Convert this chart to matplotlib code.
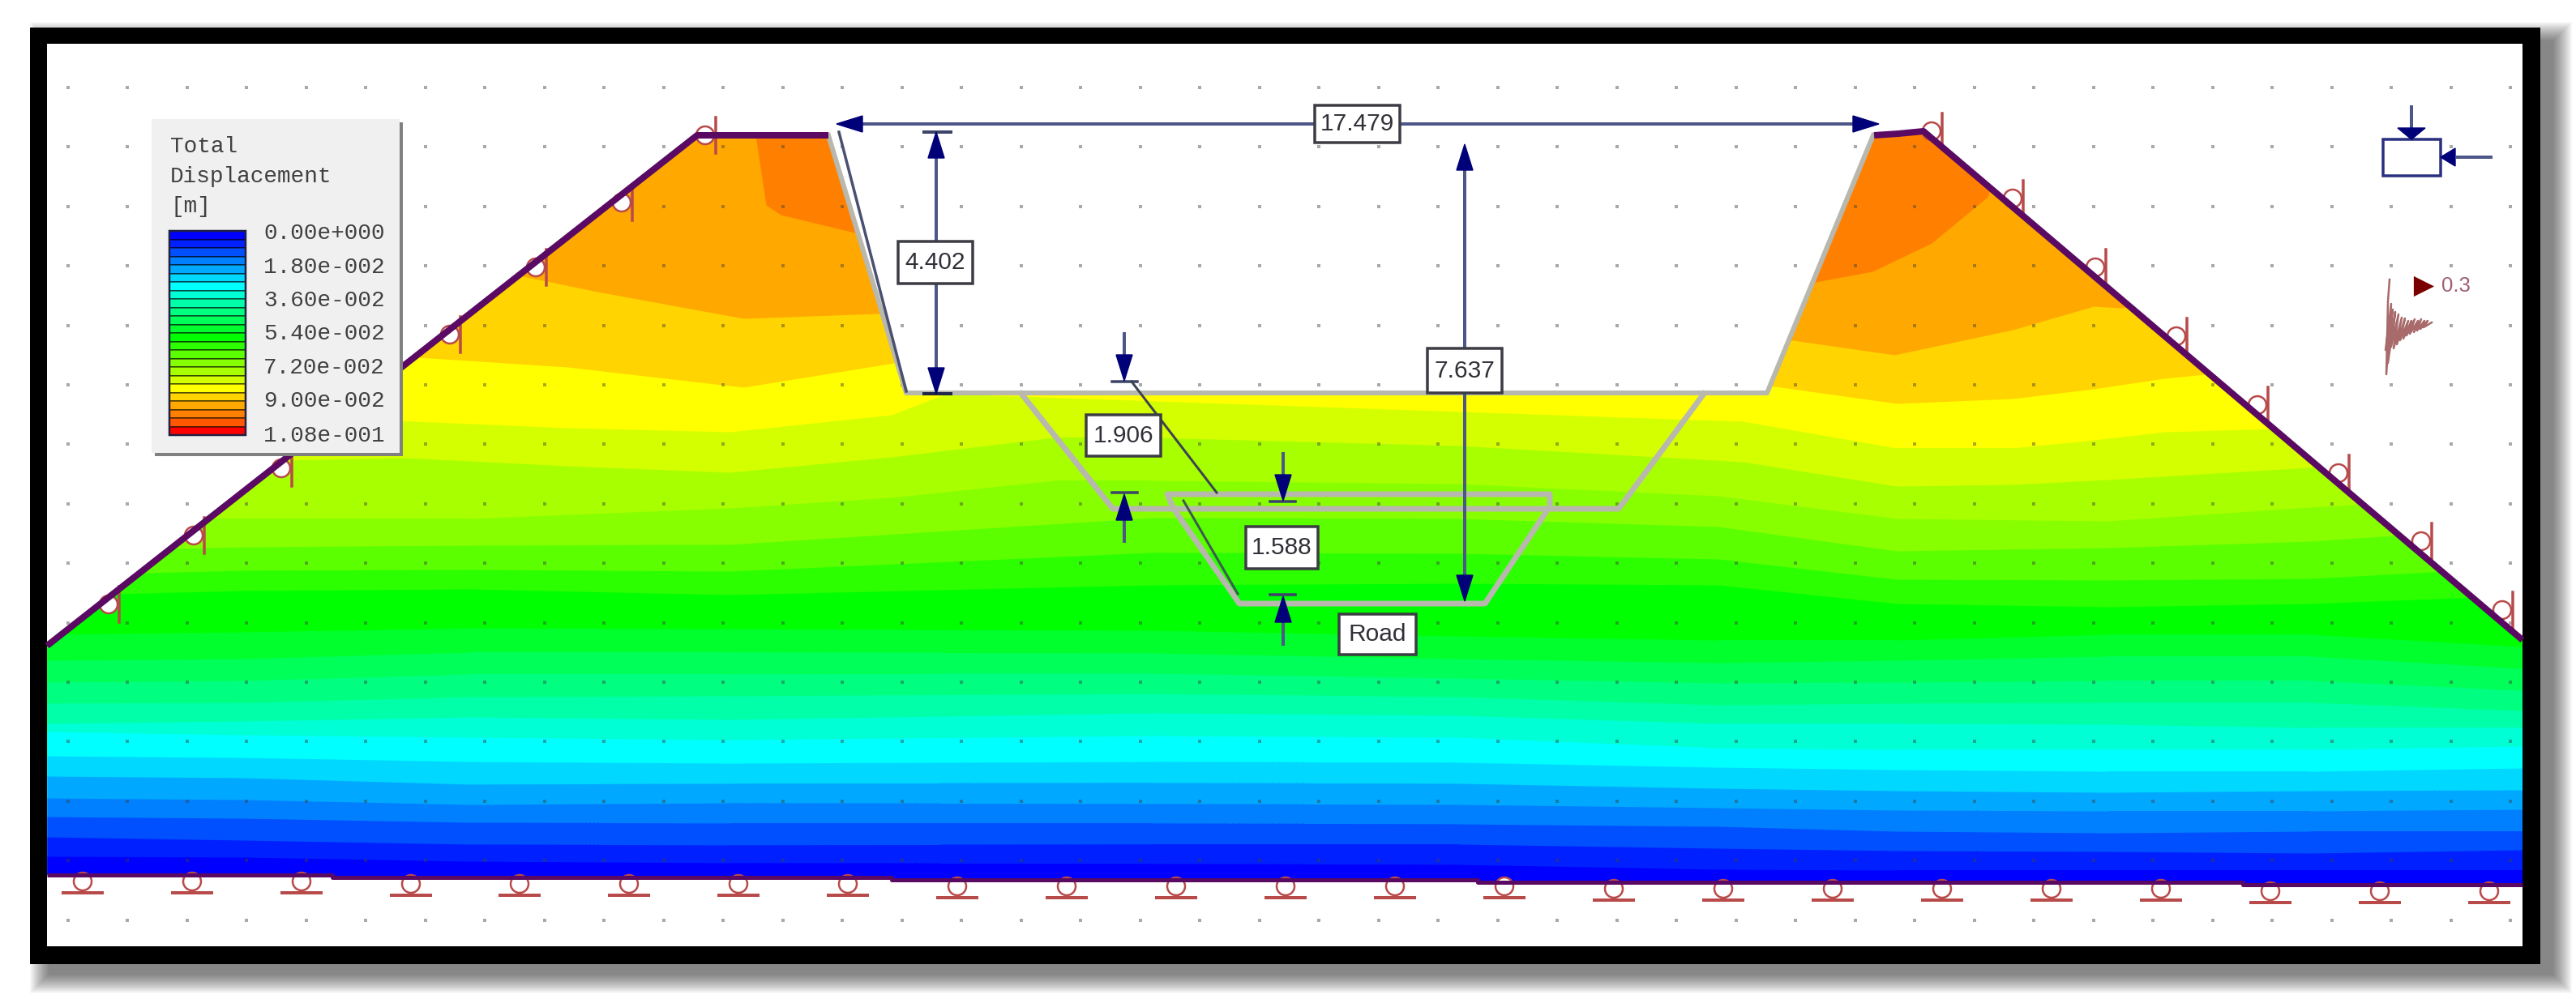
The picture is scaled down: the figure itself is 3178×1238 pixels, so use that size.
import numpy as np
import matplotlib
matplotlib.use("Agg")
import matplotlib.pyplot as plt
from matplotlib.patches import Rectangle, Polygon, Circle

W, H = 3178, 1238

# ---------- geometry of the section ----------
domain_x = [58, 860, 1022, 1118, 2180, 2311, 2342, 2373, 3112, 3112, 2767, 2767, 1823, 1823, 1100, 1100, 410, 410, 58]
domain_y = [797, 167, 167, 485, 485, 167, 165, 162, 790, 1092, 1092, 1089, 1089, 1086, 1086, 1083, 1083, 1080, 1080]

# ---------- contour bands: upper boundary of each band ----------
band0_colour = '#ff8000'
free_bands = [
    ('#ffa800', [58, 925, 932, 945, 963, 1058, 1100, 2240, 2310, 2383, 2452, 2500, 3112],
                [100, 100, 167, 253, 265, 288, 300, 348, 335, 300, 243, 100, 100]),
    ('#ffd400', [58, 620, 640, 737, 917, 1083, 1150, 2212, 2337, 2483, 2583, 2617, 2700, 3112],
                [100, 330, 340, 360, 393, 387, 400, 420, 438, 407, 378, 380, 370, 370]),
    ('#ffff00', [58, 500, 700, 917, 1103, 1130, 2190, 2340, 2483, 2583, 2670, 2740, 3112],
                [400, 440, 453, 478, 448, 440, 477, 498, 492, 480, 467, 460, 460]),
    ('#d4ff00', [58, 330, 510, 700, 900, 1100, 1167, 2150, 2340, 2483, 2583, 2670, 3112],
                [500, 520, 520, 528, 533, 512, 486, 520, 553, 553, 543, 533, 520]),
    ('#a8ff00', [58, 350, 500, 700, 900, 1100, 1300, 1420, 1800, 2150, 2340, 2483, 2600, 2850, 3112],
                [560, 568, 565, 575, 583, 564, 540, 540, 550, 570, 600, 598, 592, 577, 560]),
    ('#88ff00', [58, 400, 580, 900, 1100, 1300, 1420, 1800, 2120, 2340, 2600, 2850, 3112],
                [640, 640, 640, 627, 614, 593, 593, 597, 612, 640, 643, 626, 610]),
]
station_x = [58, 300, 580, 900, 1420, 1800, 2120, 2340, 2600, 2850, 3112]
band_60 = [680, 675, 673, 672, 639, 640, 650, 680, 676, 668, 650]
band_30 = [710, 704, 703, 705, 682, 683, 690, 715, 716, 714, 700]
band_00 = [735, 729, 727, 734, 722, 720, 722, 745, 749, 745, 735]
band_20 = [783, 780, 775, 776, 778, 785, 790, 790, 783, 783, 798]
band_50 = [815, 813, 805, 805, 806, 813, 818, 815, 810, 810, 825]
band_80 = [842, 840, 832, 832, 831, 837, 843, 842, 840, 840, 852]
band_a8 = [868, 867, 860, 859, 856, 860, 870, 868, 867, 867, 877]
band_d8 = [893, 890, 885, 888, 880, 883, 893, 893, 894, 898, 898]
band_cy = [903, 907, 910, 913, 908, 910, 923, 925, 925, 925, 921]
band_b1 = [933, 935, 940, 942, 940, 941, 947, 950, 952, 952, 948]
band_b2 = [958, 960, 968, 967, 966, 967, 973, 976, 978, 976, 975]
band_b3 = [985, 987, 993, 991, 992, 993, 997, 1000, 1001, 1001, 999]
band_b4 = [1008, 1010, 1015, 1016, 1016, 1017, 1020, 1026, 1028, 1026, 1026]
band_b5 = [1033, 1037, 1042, 1043, 1042, 1042, 1047, 1050, 1051, 1053, 1049]
band_b6 = [1057, 1058, 1063, 1065, 1066, 1067, 1073, 1074, 1074, 1074, 1074]
station_bands = [
    ('#5cff00', band_60), ('#2cff00', band_30), ('#00ff00', band_00), ('#00ff2c', band_20),
    ('#00ff58', band_50), ('#00ff80', band_80), ('#00ffa8', band_a8), ('#00ffd4', band_d8),
    ('#00ffff', band_cy), ('#00d8ff', band_b1), ('#00a8ff', band_b2), ('#0080ff', band_b3),
    ('#0050ff', band_b4), ('#0020ff', band_b5), ('#0000ff', band_b6),
]

# ---------- excavation stages ----------
stage2_x = [1260, 1373, 1997, 2102]
stage2_y = [486, 628, 628, 486]
stage3_x = [1448, 1440, 1912, 1912, 1832, 1529, 1448]
stage3_y = [628, 610, 610, 625, 745, 745, 628]

# ---------- supports ----------
left_roller_x = [134, 239, 347, 555, 661, 767, 870]
left_roller_y = [746, 661, 578, 413, 330, 250, 167]
right_roller_x = [2383, 2483, 2585, 2685, 2785, 2885, 2987, 3087]
right_roller_y = [162, 245, 330, 415, 500, 584, 668, 753]
base_roller_x = [102, 237, 372, 507, 641, 776, 911, 1046, 1181, 1316, 1451, 1586,
                 1721, 1856, 1991, 2126, 2261, 2396, 2531, 2666, 2801, 2936, 3071]
base_roller_y = [1102, 1102, 1102, 1105, 1105, 1105, 1105, 1105, 1108, 1108, 1108, 1108,
                 1108, 1108, 1111, 1111, 1111, 1111, 1111, 1111, 1114, 1114, 1114]

# ---------- labels ----------
legend_title = ['Total', 'Displacement', '[m]']
legend_ticks = ['0.00e+000', '1.80e-002', '3.60e-002', '5.40e-002', '7.20e-002', '9.00e-002', '1.08e-001']
legend_tick_y = [288, 330, 371, 412, 454, 495, 538]
legend_strips = ['#0000ff', '#0020ff', '#0050ff', '#0080ff', '#00a8ff', '#00d8ff', '#00ffff', '#00ffd4',
                 '#00ffa8', '#00ff80', '#00ff58', '#00ff2c', '#00ff00', '#2cff00', '#5cff00', '#88ff00',
                 '#a8ff00', '#d4ff00', '#ffff00', '#ffd400', '#ffa800', '#ff8000', '#ff5800', '#ff0000']

boxes = [('17.479', 1622, 1727, 130, 176), ('4.402', 1108, 1200, 298, 350),
         ('7.637', 1761, 1853, 430, 485), ('1.906', 1340, 1432, 512, 563),
         ('1.588', 1537, 1626, 650, 702), ('Road', 1652, 1747, 758, 808)]

seis_x = [2948, 2946, 2944, 2950, 2943, 2952, 2946, 2955, 2950, 2959, 2953, 2963, 2957, 2967, 2961, 2971, 2965,
          2975, 2969, 2979, 2973, 2983, 2978, 2987, 2982, 2991, 2986, 2995, 2990, 3000]
seis_y = [345, 372, 462, 375, 432, 382, 448, 385, 428, 388, 430, 392, 425, 393, 420, 396, 418,
          396, 414, 394, 412, 396, 410, 394, 408, 396, 406, 396, 404, 398]

NAVY = '#000078'
DIMLINE = '#4d5688'

fig = plt.figure(figsize=(W / 100, H / 100), dpi=100, facecolor='white')
ax = fig.add_axes([0, 0, 1, 1])
ax.set_xlim(0, W)
ax.set_ylim(H, 0)
ax.axis('off')
px = 72 / 100  # one pixel in points

# frame and its soft shadow
for k in range(24):
    ax.add_patch(Rectangle((60 - k, 50 - k), 3090 + 2 * k, 1153 + 2 * k, fc='black', ec='none', alpha=0.022, zorder=0))
ax.add_patch(Rectangle((37, 34), 3097, 1156, fc='black', ec='none', zorder=1))
ax.add_patch(Rectangle((58, 54), 3054, 1114, fc='white', ec='none', zorder=2))

# contour bands
domain = Polygon(np.column_stack([domain_x, domain_y]), closed=True, fc=band0_colour, ec='none', zorder=3)
ax.add_patch(domain)
for colour, xs, ys in free_bands:
    coll = ax.fill_between(xs, ys, 1130, color=colour, lw=0, zorder=4)
    coll.set_clip_path(domain)
for colour, ys in station_bands:
    coll = ax.fill_between(station_x, ys, 1130, color=colour, lw=0, zorder=4)
    coll.set_clip_path(domain)

# grid of dots
gx = np.arange(83.5, 3100, 73.5)
gy = np.arange(108, 1140, 73.4)
GX, GY = np.meshgrid(gx, gy)
ax.scatter(GX.ravel(), GY.ravel(), s=11, marker='s', color=(0.25, 0.25, 0.25, 0.45), lw=0, zorder=5)

# excavation outlines
GREY = '#b8b8ae'
ax.plot([1022, 1118, 2180, 2311], [167, 485, 485, 167], color=GREY, lw=6 * px, solid_joinstyle='round', zorder=6)
ax.plot(stage2_x, stage2_y, color=GREY, lw=7 * px, solid_joinstyle='round', zorder=6)
ax.plot(stage3_x, stage3_y, color=GREY, lw=7 * px, solid_joinstyle='round', zorder=6)

# supports
RED = '#b84a4a'
for x, y in zip(left_roller_x + right_roller_x, left_roller_y + right_roller_y):
    ax.add_patch(Circle((x, y), 11, fc='white', ec=RED, lw=2.5 * px, zorder=7))
    ax.plot([x + 13, x + 13], [y - 22, y + 22], color=RED, lw=3.5 * px, zorder=7)
for x, y in zip(base_roller_x, base_roller_y):
    ax.add_patch(Circle((x, y - 14), 11, fc='white', ec=RED, lw=2.5 * px, zorder=7))
    ax.plot([x - 24, x + 24], [y, y], color=RED, lw=4 * px, zorder=7)

# boundary lines
PURPLE = '#5a0a62'
ax.plot([58, 860, 1022], [797, 167, 167], color=PURPLE, lw=8 * px, solid_capstyle='butt', zorder=8)
ax.plot([2312, 2342, 2373, 3112], [167, 165, 162, 790], color=PURPLE, lw=8 * px, solid_capstyle='butt', zorder=8)
ax.plot(domain_x[9:], domain_y[9:], color=PURPLE, lw=5 * px, solid_capstyle='butt', zorder=8)


def arrow_head(tip_x, tip_y, dx, dy, length=32, half=10):
    bx, by = tip_x - dx * length, tip_y - dy * length
    nx, ny = -dy * half, dx * half
    ax.add_patch(Polygon([(tip_x, tip_y), (bx + nx, by + ny), (bx - nx, by - ny)], closed=True,
                         fc=NAVY, ec=NAVY, lw=1, zorder=10))


def dim_line(x0, y0, x1, y1):
    ax.plot([x0, x1], [y0, y1], color=DIMLINE, lw=4 * px, solid_capstyle='butt', zorder=9)


# 17.479
dim_line(1045, 153, 2300, 153)
arrow_head(1032, 153, -1, 0)
arrow_head(2318, 153, 1, 0)
# leader along the left slope
ax.plot([1035, 1118], [163, 483], color='#4a5070', lw=3.5 * px, zorder=9)
# 4.402
dim_line(1155, 175, 1155, 475)
arrow_head(1155, 163, 0, -1)
arrow_head(1155, 486, 0, 1)
ax.plot([1140, 1173], [163, 163], color='#3d4468', lw=4 * px, zorder=9)
ax.plot([1140, 1173], [486, 486], color='#20264a', lw=4 * px, zorder=9)
# 7.637
dim_line(1807, 190, 1807, 730)
arrow_head(1807, 178, 0, -1)
arrow_head(1807, 742, 0, 1)
# 1.906
dim_line(1387, 410, 1387, 450)
arrow_head(1387, 470, 0, 1)
ax.plot([1372, 1403], [471, 471], color='#3d4468', lw=3.5 * px, zorder=9)
ax.plot([1396, 1501], [471, 608], color='#3c4450', lw=3 * px, zorder=9)
dim_line(1387, 670, 1387, 630)
arrow_head(1387, 610, 0, -1)
ax.plot([1372, 1403], [608, 608], color='#3d4468', lw=3.5 * px, zorder=9)
# 1.588
dim_line(1583, 558, 1583, 598)
arrow_head(1583, 618, 0, 1)
ax.plot([1567, 1598], [619, 619], color='#3d4468', lw=3.5 * px, zorder=9)
ax.plot([1460, 1527], [618, 733], color='#3c5a50', lw=3 * px, zorder=9)
dim_line(1583, 797, 1583, 756)
arrow_head(1583, 736, 0, -1)
ax.plot([1567, 1598], [734, 734], color='#3d4468', lw=3.5 * px, zorder=9)

# boxed labels
for label, x0, x1, y0, y1 in boxes:
    ax.add_patch(Rectangle((x0, y0), x1 - x0, y1 - y0, fc='white', ec='#3c3c44', lw=3.5 * px, zorder=11))
    ax.text((x0 + x1) / 2, (y0 + y1) / 2, label, family='Liberation Sans', fontsize=21.5,
            color='#303038', ha='center', va='center', zorder=12)

# load icon
ax.add_patch(Rectangle((2940, 172), 71, 45, fc='white', ec='#2a3080', lw=3.5 * px, zorder=9))
dim_line(2975, 130, 2975, 160)
arrow_head(2975, 172, 0, 1, length=14, half=17)
dim_line(3075, 194, 3030, 194)
arrow_head(3011, 194, -1, 0, length=18, half=11)

# seismic icon
ax.plot(seis_x, seis_y, color='#a86a6a', lw=2.5 * px, zorder=9)
ax.scatter([2990], [353], marker='>', s=330, color='#7a0000', lw=0, zorder=9)
ax.text(3012, 353, '0.3', family='Liberation Sans', fontsize=18.5, color='#a06070', ha='left', va='center', zorder=9)

# legend
ax.add_patch(Rectangle((191, 151), 306, 412, fc='#808080', ec='none', zorder=20))
ax.add_patch(Rectangle((187, 147), 306, 412, fc='#f0f0f0', ec='none', zorder=21))
for i, line in enumerate(legend_title):
    ax.text(210, 181 + i * 37, line, family='Liberation Mono', fontsize=20, color='#404040',
            ha='left', va='center', zorder=22)
for y, label in zip(legend_tick_y, legend_ticks):
    ax.text(325, y, label, family='Liberation Mono', fontsize=20, color='#404040',
            ha='left', va='center', zorder=22)
strip_h = 252 / len(legend_strips)
for i, c in enumerate(legend_strips):
    ax.add_patch(Rectangle((209, 285 + i * strip_h), 94, strip_h, fc=c, ec=(0, 0, 0, 0.45), lw=2 * px, zorder=22))
ax.add_patch(Rectangle((209, 285), 94, 252, fc='none', ec='#202040', lw=2.5 * px, zorder=23))

fig.savefig('out.png', dpi=100, facecolor='white')
